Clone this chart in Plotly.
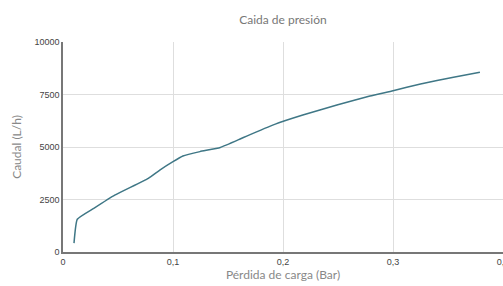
import plotly.graph_objects as go

perdida = [0.010, 0.013, 0.028, 0.047, 0.0776, 0.088, 0.100, 0.109, 0.1245, 0.143,
           0.161, 0.167, 0.193, 0.218, 0.249, 0.279, 0.300, 0.325, 0.355, 0.379]
caudal = [420, 1560, 2080, 2710, 3510, 3900, 4300, 4570, 4780, 4980,
          5380, 5520, 6090, 6520, 7000, 7430, 7680, 8000, 8320, 8560]

x_ticks = [0, 0.1, 0.2, 0.3, 0.4]
x_labels = ["0", "0,1", "0,2", "0,3", "0,4"]
y_ticks = [0, 2500, 5000, 7500, 10000]
y_labels = ["0", "2500", "5000", "7500", "10000"]

fig = go.Figure(go.Scatter(x=perdida, y=caudal, mode="lines",
                           line=dict(color="#3f7786", width=1.5, shape="spline", smoothing=0.4),
                           hoverinfo="skip"))

fig.update_layout(
    width=503, height=286,
    margin=dict(l=63, r=0, t=42, b=34, autoexpand=False),
    paper_bgcolor="white", plot_bgcolor="white",
    showlegend=False,
    title=dict(text="Caida de presión", x=0.5625, xanchor="center", y=0.93, yanchor="middle",
               font=dict(family="Lato", size=12, color="#777777")),
)
fig.update_xaxes(range=[0, 0.4], tickvals=x_ticks, ticktext=x_labels,
                 showgrid=True, gridcolor="#dedede", gridwidth=1,
                 showline=True, linecolor="#777777", linewidth=1.5,
                 zeroline=False, ticks="", ticklen=0, automargin=False,
                 ticklabeloverflow="allow",
                 tickfont=dict(family="Liberation Sans", size=9, color="#444444"),
                 title=dict(text="Pérdida de carga (Bar)", standoff=2,
                            font=dict(family="Lato", size=12, color="#888888")))
fig.update_yaxes(range=[0, 10000], tickvals=y_ticks, ticktext=y_labels,
                 showgrid=True, gridcolor="#dedede", gridwidth=1,
                 showline=True, linecolor="#777777", linewidth=1.5,
                 zeroline=False, ticks="", automargin=False,
                 tickfont=dict(family="Liberation Sans", size=9, color="#444444"),
                 title=dict(text="Caudal (L/h)", standoff=10,
                            font=dict(family="Lato", size=12, color="#888888")))

fig.write_html("out.html", config={"displayModeBar": False},
               post_script="document.body.style.margin='0';")
